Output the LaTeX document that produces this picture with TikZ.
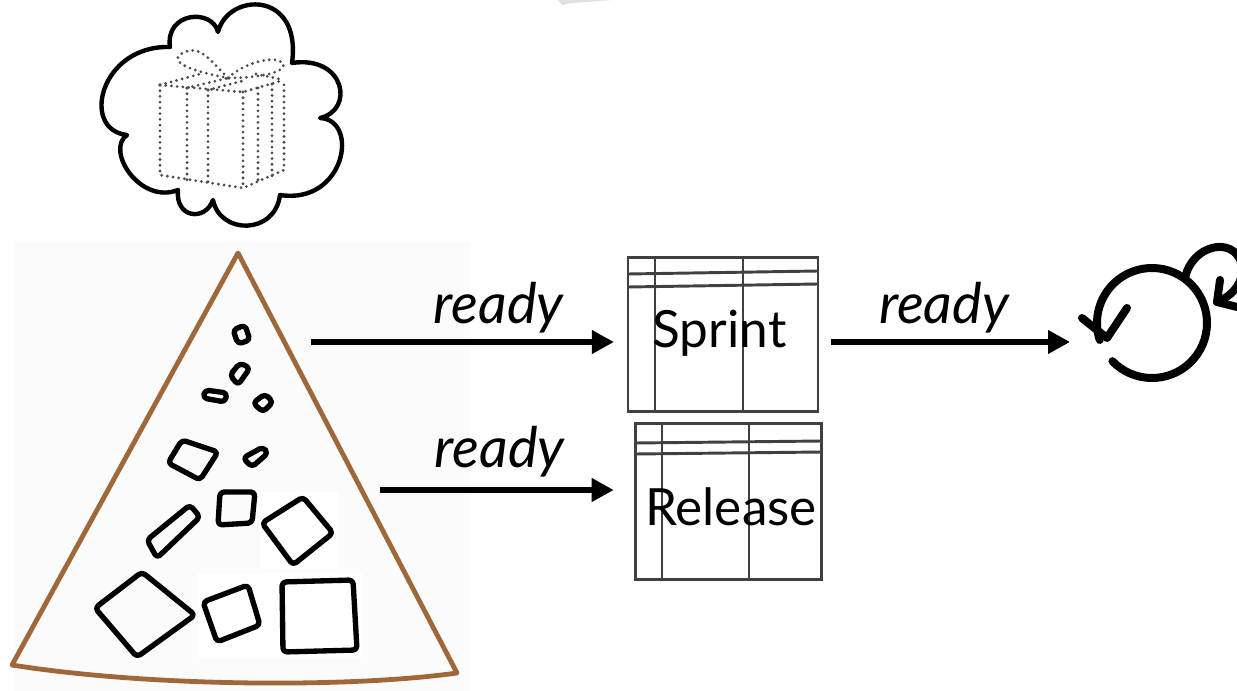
\documentclass[tikz,border=0pt]{standalone}
\usepackage{fontspec}
\setmainfont{Lato}
\usetikzlibrary{arrows.meta}
\definecolor{trunk}{RGB}{158,104,58}
\begin{document}
\begin{tikzpicture}[x=0.75pt,y=-0.75pt,
  tri/.style={draw=trunk, line width=3.6pt, line join=round},
  item/.style={draw=black, line width=4pt, rounded corners=3pt, line join=round},
  cloudline/.style={draw=black, line width=3.3pt, line join=round},
  giftdots/.style={draw=black!70, line width=2.3pt, line cap=round, dash pattern=on 0pt off 4.3pt},
  board/.style={draw=black!75, line width=2.2pt, minimum width=142.5pt, minimum height=116pt, inner sep=0pt},
  grid/.style={draw=black!75, line width=2.2pt},
  flow/.style={line width=3.8pt, -{Triangle[length=16.5pt,width=17pt]}},
  cyc/.style={line width=6pt, line cap=round, line join=round},
  lbl/.style={font=\fontsize{42}{44}\selectfont\itshape, inner sep=0pt, anchor=base},
  title/.style={font=\fontsize{38.5}{40}\selectfont, inner sep=0pt, anchor=base}
]
\useasboundingbox (0,0) rectangle (1237,691);
\clip (0,0) rectangle (1237,691);
\fill[white] (0,0) rectangle (1237,691);

% faint sheet behind the backlog
\fill[black!1.5] (15,242) rectangle (470,691);
\fill[white] (260,492) rectangle (338,569);
\fill[white] (198,573) rectangle (362,658);

% grey corner at the top edge
\fill[black!12] (558,0) -- (612,0) -- (572,3) -- (562,5) -- cycle;

% thought cloud
\draw[cloudline] (170,47) .. controls (165,12) and (212,8) .. (218,32)
  .. controls (228,-8) and (302,-10) .. (292,63)
  .. controls (345,55) and (355,110) .. (320,118)
  .. controls (360,120) and (345,205) .. (280,195)
  .. controls (275,235) and (220,235) .. (213,200)
  .. controls (205,222) and (175,218) .. (178,190)
  .. controls (140,205) and (105,150) .. (127,135)
  .. controls (80,130) and (100,45) .. (170,47) -- cycle;

% dotted gift inside the cloud
\draw[giftdots] (160,85) -- (160,175) -- (243,188) -- (284,170) -- (284,80);
\draw[giftdots] (160,85) -- (243,92) -- (284,80);
\draw[giftdots] (243,92) -- (243,188);
\draw[giftdots] (160,85) -- (200,74);
\draw[giftdots] (256,74) -- (284,80);
\draw[giftdots] (187,88) -- (187,180);
\draw[giftdots] (208,90) -- (208,183);
\draw[giftdots] (258,88) -- (258,181);
\draw[giftdots] (272,84) -- (272,176);
\draw[giftdots] (187,88) -- (228,78);
\draw[giftdots] (208,90) -- (246,80);
\draw[giftdots] (228,78) .. controls (210,60) and (200,45) .. (185,52)
  .. controls (170,58) and (175,68) .. (228,78);
\draw[giftdots] (228,78) .. controls (245,62) and (275,55) .. (283,63)
  .. controls (288,72) and (260,78) .. (228,78);

% backlog triangle
\draw[tri] (238,253) -- (12,665) .. controls (150,687) and (350,688) .. (457,673) -- cycle;

% backlog items
\draw[item] (233,330) -- (245,325) -- (250,340) -- (238,344) -- cycle;
\draw[item] (230,375) -- (240,363) -- (250,368) -- (238,385) -- cycle;
\draw[item] (205,390) -- (227,393) -- (225,402) -- (203,398) -- cycle;
\draw[item] (253,403) -- (265,394) -- (273,402) -- (263,412) -- cycle;
\draw[item] (168,463) -- (182,440) -- (218,452) -- (200,480) -- cycle;
\draw[item] (243,458) -- (263,447) -- (268,453) -- (252,467) -- cycle;
\draw[item] (147,540) -- (190,505) -- (200,517) -- (157,558) -- cycle;
\draw[item] (220,492) -- (255,492) -- (252,523) -- (218,525) -- cycle;
\draw[item] (262,523) -- (303,497) -- (333,533) -- (293,565) -- cycle;
\draw[item] (95,608) -- (142,572) -- (195,615) -- (137,657) -- cycle;
\draw[item] (203,602) -- (248,585) -- (260,625) -- (217,642) -- cycle;
\draw[item] (282,582) -- (353,580) -- (357,650) -- (283,652) -- cycle;

% sprint and release boards
\node[board] (sprint) at (723,334.5) {};
\draw[grid] (655,257) -- (655,412);
\draw[grid] (743,257) -- (743,412);
\draw[grid] (628,274) -- (818,271);
\draw[grid] (628,287) -- (818,284);
\node[title] (sprinttxt) at (719.5,347) {Sprint};

\node[board, minimum width=140pt, minimum height=117.5pt] (release) at (728.5,501.5) {};
\draw[grid] (662,423) -- (662,580);
\draw[grid] (749,423) -- (749,580);
\draw[grid] (635,443) -- (822,441);
\draw[grid] (635,454) -- (822,452);
\node[title] (releasetxt) at (731,525) {Release};

% iteration cycle
\coordinate (cyc) at (1152,323);
\draw[cyc] (cyc) ++(136:55) arc[start angle=136, end angle=-198, radius=55];
\draw[cyc] (1082,318) -- (1107,338) -- (1127,308);
\draw[cyc] (1185,278) .. controls (1192,245) and (1232,236) .. (1241,262)
  .. controls (1246,282) and (1232,296) .. (1217,302);
\draw[cyc] (1220,280) -- (1217,302) -- (1237,307);

% flows
\coordinate (top) at (311,342);
\coordinate (low) at (380,490);
\coordinate (cycin) at (1070,342);
\draw[flow, shorten >=9.5pt] (top) -- (top -| sprint.west);
\draw[flow, shorten >=15pt] (low) -- (low -| release.west);
\draw[flow, shorten <=9pt] (sprint.east |- top) -- (cycin);

\node[lbl] (rdy1) at (498.5,323) {ready};
\node[lbl] (rdy2) at (499.5,467) {ready};
\node[lbl] (rdy3) at (944,323) {ready};
\end{tikzpicture}
\end{document}
